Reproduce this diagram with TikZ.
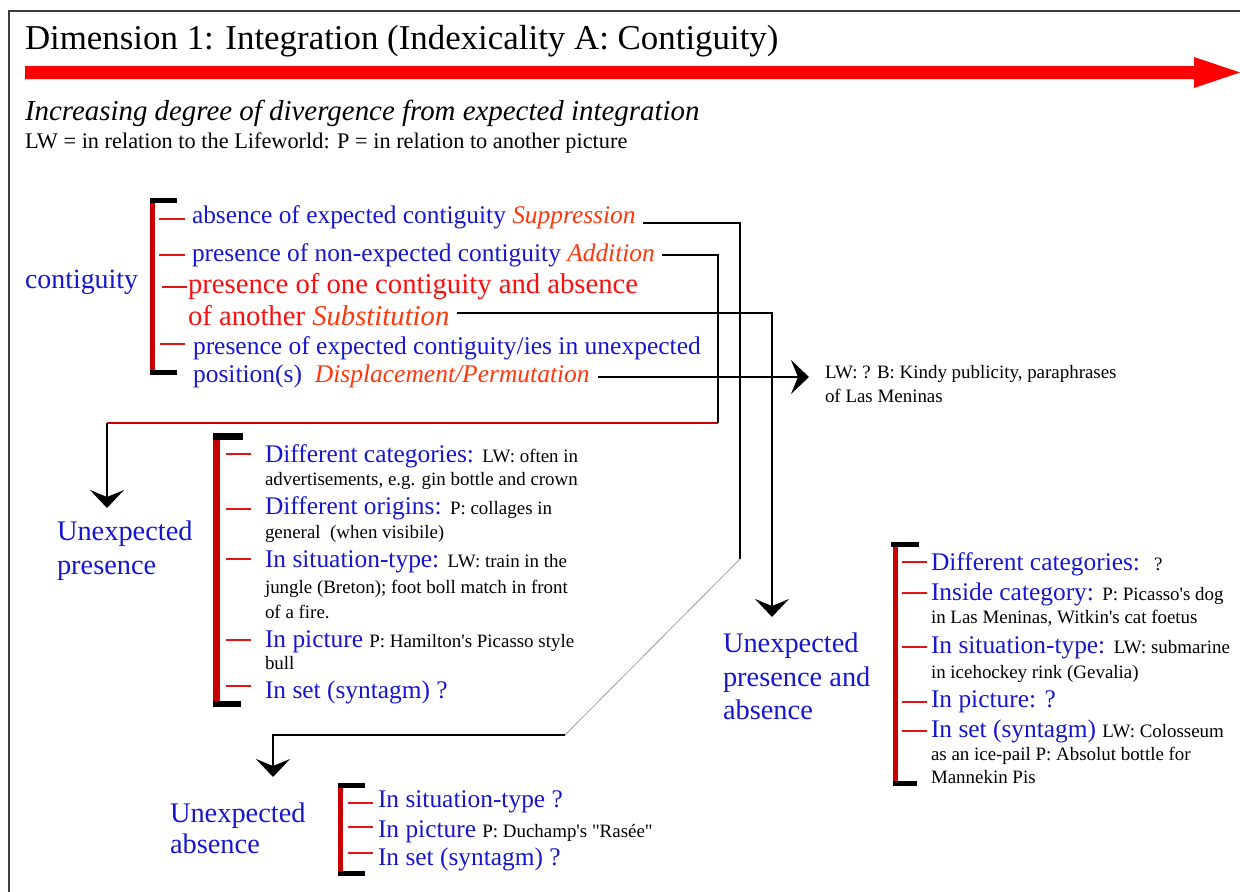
\documentclass[tikz,border=0pt]{standalone}
\usepackage{fontspec}
\setmainfont{Liberation Serif}
% plain family without TeX ligature mapping, so ' and " stay straight
\newfontfamily\plainserif{Liberation Serif}
\usetikzlibrary{arrows.meta,calc}

\definecolor{ublue}{RGB}{22,22,208}
\definecolor{uorange}{RGB}{255,55,10}
\definecolor{ured}{RGB}{250,15,15}
\definecolor{barred}{RGB}{200,0,0}
\definecolor{tickred}{RGB}{225,20,20}
\definecolor{framegray}{RGB}{60,60,60}

\newcommand\fs[1]{\fontsize{#1}{#1}\selectfont}
\newcommand\itemblue{\fs{25.5}\color{ublue}}
\newcommand\itemnote{\fs{19}\color{black}}
\newcommand\itemital{\itshape\color{uorange}}
\newcommand\labelblue{\fs{28.5}\color{ublue}}

\tikzset{
  lbl/.style={anchor=base west, inner sep=0pt, outer sep=0pt, font=\plainserif},
  conn/.style={draw=black, line width=1.6bp},
  tip/.style={-{Stealth[length=18bp,width=34bp,inset=7bp]}},
  tick/.style={draw=tickred, line width=1.4bp},
  brbar/.style={draw=barred, line width=5bp},
  brcap/.style={draw=black, line width=5bp},
}

\begin{document}
\begin{tikzpicture}[x=1bp,y=-1bp]
\useasboundingbox (0,0) rectangle (1240,892);

% frame
\draw[framegray, line width=2bp] (9,892) -- (9,11) -- (1240,11);

% heading and scale arrow
\node[lbl] (title) at (25,49) {\fs{35}Dimension 1: Integration (Indexicality A: Contiguity)};
\fill[red] (25,66) -- (1194,66) -- (1194,57) -- (1240,72.5) -- (1194,88) -- (1194,79) -- (25,79) -- cycle;
\node[lbl] (sub) at (25,120) {\fs{29}\itshape Increasing degree of divergence from expected integration};
\node[lbl] (key) at (25,148) {\fs{22.4}LW = in relation to the Lifeworld: P = in relation to another picture};

% contiguity list
\node[lbl] (cont) at (25,288) {\fs{28}\color{ublue}contiguity};
\draw[brbar] (152.5,198) -- (152.5,375);
\draw[brcap] (150,200.5) -- (177,200.5);
\draw[brcap] (150,372.5) -- (177,372.5);
\draw[tick] (159,219) -- (185,219);
\draw[tick] (159,255) -- (185,255);
\draw[tick] (162,287) -- (187,287);
\draw[tick] (160,344) -- (185,344);

\node[lbl] (c1) at (192,223) {\itemblue absence of expected contiguity \itemital Suppression};
\node[lbl] (c2) at (192,261) {\itemblue presence of non-expected contiguity \itemital Addition};
\node[lbl] (c3a) at (188,293) {\fs{28.8}\color{ured}presence of one contiguity and absence};
\node[lbl] (c3b) at (188,325) {\fs{28.8}\color{ured}of another \itemital Substitution};
\node[lbl] (c4a) at (193,354) {\fs{25.6}\color{ublue}presence of expected contiguity/ies in unexpected};
\node[lbl] (c4b) at (193,382) {\fs{25.6}\color{ublue}position(s)\ \ \itemital Displacement/Permutation};

\node[lbl] (lw1) at (825,378) {\itemnote LW: ? B: Kindy publicity, paraphrases};
\node[lbl] (lw2) at (825,402) {\itemnote of Las Meninas};

% unexpected presence
\node[lbl] (up1) at (57,540) {\labelblue Unexpected};
\node[lbl] (up2) at (57,574) {\labelblue presence};
\draw[brbar, line width=6.5bp] (216.5,433) -- (216.5,707);
\draw[brcap, line width=7bp] (213,436.5) -- (243,436.5);
\draw[brcap, line width=6bp] (213,704) -- (241,704);
\foreach \yy in {454,509,559,640,686} \draw[tick] (226,\yy) -- (251,\yy);
\node[lbl] (m1a) at (265,462) {\itemblue Different categories: \itemnote LW: often in};
\node[lbl] (m1b) at (265,485) {\itemnote advertisements, e.g. gin bottle and crown};
\node[lbl] (m2a) at (265,514) {\itemblue Different origins: \itemnote P: collages in};
\node[lbl] (m2b) at (265,538) {\itemnote general\ \ (when visibile)};
\node[lbl] (m3a) at (265,567) {\itemblue In situation-type: \itemnote LW: train in the};
\node[lbl] (m3b) at (265,593) {\itemnote jungle (Breton); foot boll match in front};
\node[lbl] (m3c) at (265,618) {\itemnote of a fire.};
\node[lbl] (m4a) at (265,647) {\itemblue In picture \itemnote P: Hamilton's Picasso style};
\node[lbl] (m4b) at (265,669) {\itemnote bull};
\node[lbl] (m5) at (265,698) {\itemblue In set (syntagm) ?};

% unexpected presence and absence
\node[lbl] (pa1) at (723,652) {\labelblue Unexpected};
\node[lbl] (pa2) at (723,686) {\labelblue presence and};
\node[lbl] (pa3) at (723,719) {\labelblue absence};
\draw[brbar] (895,542) -- (895,786);
\draw[brcap] (891,544.5) -- (919,544.5);
\draw[brcap] (893,783.5) -- (917,783.5);
\foreach \yy in {562,593,647,702,731} \draw[tick] (902,\yy) -- (927,\yy);
\node[lbl] (r1) at (931,570) {\itemblue Different categories:\hspace{14bp}\itemnote ?};
\node[lbl] (r2a) at (931,600) {\itemblue Inside category: \itemnote P: Picasso's dog};
\node[lbl] (r2b) at (931,623) {\itemnote in Las Meninas, Witkin's cat foetus};
\node[lbl] (r3a) at (931,653) {\itemblue In situation-type: \itemnote LW: submarine};
\node[lbl] (r3b) at (931,678) {\itemnote in icehockey rink (Gevalia)};
\node[lbl] (r4) at (931,707) {\itemblue In picture: ?};
\node[lbl] (r5a) at (931,737) {\itemblue In set (syntagm) \itemnote LW: Colosseum};
\node[lbl] (r5b) at (931,760) {\itemnote as an ice-pail P: Absolut bottle for};
\node[lbl] (r5c) at (931,783) {\itemnote Mannekin Pis};

% unexpected absence
\node[lbl] (ua1) at (170,822) {\labelblue Unexpected};
\node[lbl] (ua2) at (170,853) {\labelblue absence};
\draw[brbar] (340.5,783) -- (340.5,876);
\draw[brcap] (338,785.5) -- (365,785.5);
\draw[brcap] (338,873.5) -- (365,873.5);
\foreach \yy in {803,827,853} \draw[tick] (348,\yy) -- (373,\yy);
\node[lbl] (b1) at (378,807) {\itemblue In situation-type ?};
\node[lbl] (b2) at (378,837) {\itemblue In picture \itemnote P: Duchamp's "Rasée"};
\node[lbl] (b3) at (378,865) {\itemblue In set (syntagm) ?};

% connectors
\coordinate (s1) at ($(c1.base east)+(7,0)$);
\coordinate (s2) at ($(c2.base east)+(7,-6)$);
\coordinate (s3) at ($(c3b.base east)+(8,-12)$);
\coordinate (s4) at ($(c4b.base east)+(8,-5)$);
\coordinate (j1) at (740,559);
\coordinate (j2) at (565,735);
\coordinate (t1) at (273,777);
\coordinate (j3) at (718,423);
\coordinate (j4) at (107,423);
\coordinate (t2) at (107,508);
\coordinate (t3) at (772,617);

\draw[conn] (s1) -| (j1);
\draw[draw=gray!75, line width=0.8bp] (j1) -- (j2);
\draw[conn,tip] (j2) -| (t1);

\draw[conn] (s2) -| (j3);
\draw[draw=barred, line width=1.6bp] (j3) -- (j4);
\draw[conn,tip] (j4) -- (t2);

\draw[conn,tip] (s3) -| (t3);

\draw[conn,tip] (s4) -- ($(s4 -| lw1.west)+(-16,0)$);
\end{tikzpicture}
\end{document}
